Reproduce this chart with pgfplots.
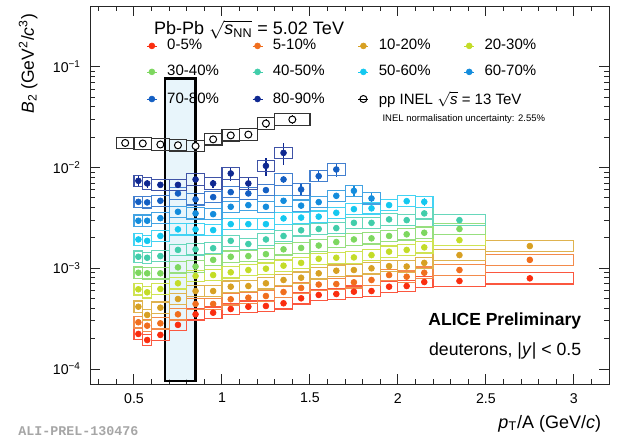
\documentclass[border=0pt]{standalone}
\usepackage{fontspec}
\setmainfont{Liberation Sans}
\setmonofont{Liberation Mono}
\usepackage{amsmath}
\usepackage{pgfplots}
\usepackage{pgfplotstable}
\pgfplotsset{compat=1.18}

\definecolor{c0}{RGB}{250,45,15}
\definecolor{c1}{RGB}{240,110,30}
\definecolor{c2}{RGB}{215,160,35}
\definecolor{c3}{RGB}{195,220,40}
\definecolor{c4}{RGB}{125,215,95}
\definecolor{c5}{RGB}{65,205,170}
\definecolor{c6}{RGB}{20,200,240}
\definecolor{c7}{RGB}{20,140,220}
\definecolor{c8}{RGB}{20,95,195}
\definecolor{c9}{RGB}{15,40,145}
\definecolor{hl}{RGB}{222,241,250}

% box marks: half widths = half bin width x 105.56pt per unit, half height 3.4pt
\pgfdeclareplotmark{boxA}{\pgfpathrectanglecorners{\pgfpoint{-2.64pt}{-3.4pt}}{\pgfpoint{2.64pt}{3.4pt}}\pgfusepathqstroke}
\pgfdeclareplotmark{boxB}{\pgfpathrectanglecorners{\pgfpoint{-5.28pt}{-3.4pt}}{\pgfpoint{5.28pt}{3.4pt}}\pgfusepathqstroke}
\pgfdeclareplotmark{boxC}{\pgfpathrectanglecorners{\pgfpoint{-15.83pt}{-3.4pt}}{\pgfpoint{15.83pt}{3.4pt}}\pgfusepathqstroke}
\pgfdeclareplotmark{boxD}{\pgfpathrectanglecorners{\pgfpoint{-26.39pt}{-3.4pt}}{\pgfpoint{26.39pt}{3.4pt}}\pgfusepathqstroke}
\pgfdeclareplotmark{boxE}{\pgfpathrectanglecorners{\pgfpoint{-10.56pt}{-3.4pt}}{\pgfpoint{10.56pt}{3.4pt}}\pgfusepathqstroke}

% x = pT/A, y = B2, w = half bin width, e = relative stat. error
\pgfplotstableread{
x y w e
0.525 0.000223 0.025 0.03
0.575 0.000194 0.025 0.03
0.65 0.000218 0.05 0.03
0.75 0.000274 0.05 0.03
0.85 0.000349 0.05 0.03
0.95 0.000362 0.05 0.03
1.05 0.000394 0.05 0.03
1.15 0.000415 0.05 0.03
1.25 0.000422 0.05 0.03
1.35 0.000449 0.05 0.03
1.45 0.000503 0.05 0.03
1.55 0.000543 0.05 0.03
1.65 0.000555 0.05 0.03
1.75 0.000585 0.05 0.03
1.85 0.000594 0.05 0.03
1.95 0.000656 0.05 0.03
2.05 0.000666 0.05 0.03
2.15 0.000730 0.05 0.03
2.35 0.000747 0.15 0.03
2.75 0.000794 0.25 0.04
}\tcA
\pgfplotstableread{
x y w e
0.525 0.000291 0.025 0.03
0.575 0.000269 0.025 0.03
0.65 0.000284 0.05 0.03
0.75 0.000349 0.05 0.03
0.85 0.000442 0.05 0.03
0.95 0.000442 0.05 0.03
1.05 0.000492 0.05 0.03
1.15 0.000510 0.05 0.03
1.25 0.000530 0.05 0.03
1.35 0.000581 0.05 0.03
1.45 0.000637 0.05 0.03
1.55 0.000689 0.05 0.03
1.65 0.000697 0.05 0.03
1.75 0.000725 0.05 0.03
1.85 0.000764 0.05 0.03
1.95 0.000856 0.05 0.03
2.05 0.000824 0.05 0.03
2.15 0.000902 0.05 0.03
2.35 0.000960 0.15 0.03
2.75 0.00121 0.25 0.06
}\tcB
\pgfplotstableread{
x y w e
0.525 0.000415 0.025 0.03
0.575 0.000344 0.025 0.03
0.65 0.000406 0.05 0.03
0.75 0.000495 0.05 0.03
0.85 0.000594 0.05 0.03
0.95 0.000594 0.05 0.03
1.05 0.000656 0.05 0.03
1.15 0.000666 0.05 0.03
1.25 0.000709 0.05 0.03
1.35 0.000764 0.05 0.03
1.45 0.000805 0.05 0.03
1.55 0.000890 0.05 0.03
1.65 0.000945 0.05 0.03
1.75 0.000960 0.05 0.03
1.85 0.000998 0.05 0.03
1.95 0.00105 0.05 0.03
2.05 0.00104 0.05 0.03
2.15 0.00113 0.05 0.03
2.35 0.00135 0.15 0.03
2.75 0.00166 0.25 0.05
}\tcC
\pgfplotstableread{
x y w e
0.525 0.000618 0.025 0.03
0.575 0.000577 0.025 0.03
0.65 0.000622 0.05 0.03
0.75 0.000709 0.05 0.03
0.85 0.000837 0.05 0.03
0.95 0.000856 0.05 0.03
1.05 0.000911 0.05 0.03
1.15 0.000960 0.05 0.03
1.25 0.000989 0.05 0.03
1.35 0.00106 0.05 0.03
1.45 0.00113 0.05 0.03
1.55 0.00124 0.05 0.03
1.65 0.00127 0.05 0.03
1.75 0.00128 0.05 0.03
1.85 0.00135 0.05 0.03
1.95 0.00146 0.05 0.03
2.05 0.00152 0.05 0.03
2.15 0.00161 0.05 0.03
2.35 0.00190 0.15 0.03
}\tcD
\pgfplotstableread{
x y w e
0.525 0.000902 0.025 0.03
0.575 0.000890 0.025 0.03
0.65 0.000890 0.05 0.03
0.75 0.00102 0.05 0.03
0.85 0.00104 0.05 0.03
0.95 0.00121 0.05 0.03
1.05 0.00130 0.05 0.03
1.15 0.00132 0.05 0.03
1.25 0.00138 0.05 0.03
1.35 0.00154 0.05 0.03
1.45 0.00159 0.05 0.03
1.55 0.00168 0.05 0.03
1.65 0.00182 0.05 0.03
1.75 0.00193 0.05 0.03
1.85 0.00198 0.05 0.03
1.95 0.00209 0.05 0.03
2.05 0.00217 0.05 0.03
2.15 0.00225 0.05 0.03
2.35 0.00245 0.15 0.03
}\tcE
\pgfplotstableread{
x y w e
0.525 0.00130 0.025 0.03
0.575 0.00127 0.025 0.03
0.65 0.00132 0.05 0.03
0.75 0.00152 0.05 0.03
0.85 0.00154 0.05 0.03
0.95 0.00158 0.05 0.03
1.05 0.00187 0.05 0.03
1.15 0.00174 0.05 0.03
1.25 0.00193 0.05 0.03
1.35 0.00209 0.05 0.03
1.45 0.00238 0.05 0.03
1.55 0.00245 0.05 0.03
1.65 0.00250 0.05 0.03
1.75 0.00282 0.05 0.03
1.85 0.00282 0.05 0.03
1.95 0.00305 0.05 0.03
2.05 0.00300 0.05 0.03
2.15 0.00350 0.05 0.04
2.35 0.00300 0.15 0.04
}\tcF
\pgfplotstableread{
x y w e
0.525 0.00193 0.025 0.03
0.575 0.00187 0.025 0.03
0.65 0.00209 0.05 0.03
0.75 0.00243 0.05 0.03
0.85 0.00243 0.05 0.03
0.95 0.00239 0.05 0.03
1.05 0.00274 0.05 0.03
1.15 0.00274 0.05 0.03
1.25 0.00274 0.05 0.03
1.35 0.00312 0.05 0.03
1.45 0.00318 0.05 0.03
1.55 0.00325 0.05 0.03
1.65 0.00355 0.05 0.03
1.75 0.00386 0.05 0.04
1.85 0.00393 0.05 0.04
1.95 0.00423 0.05 0.05
2.05 0.00463 0.05 0.06
2.15 0.00456 0.05 0.10
}\tcG
\pgfplotstableread{
x y w e
0.525 0.00296 0.025 0.03
0.575 0.00296 0.025 0.03
0.65 0.00314 0.05 0.03
0.75 0.00363 0.05 0.03
0.85 0.00350 0.05 0.03
0.95 0.00344 0.05 0.03
1.05 0.00407 0.05 0.03
1.15 0.00423 0.05 0.03
1.25 0.00407 0.05 0.04
1.35 0.00467 0.05 0.04
1.45 0.00418 0.05 0.05
1.55 0.00453 0.05 0.05
1.65 0.00523 0.05 0.06
1.75 0.00586 0.05 0.12
1.85 0.00493 0.05 0.12
}\tcH
\pgfplotstableread{
x y w e
0.525 0.00456 0.025 0.04
0.575 0.00450 0.025 0.04
0.65 0.00467 0.05 0.04
0.75 0.00552 0.05 0.04
0.85 0.00482 0.05 0.04
0.95 0.00508 0.05 0.04
1.05 0.00569 0.05 0.05
1.15 0.00552 0.05 0.05
1.25 0.00596 0.05 0.06
1.35 0.00760 0.05 0.08
1.45 0.00605 0.05 0.12
1.55 0.00820 0.05 0.12
1.65 0.00955 0.05 0.15
}\tcI
\pgfplotstableread{
x y w e
0.525 0.00737 0.025 0.13
0.575 0.00694 0.025 0.09
0.65 0.00672 0.05 0.05
0.75 0.00672 0.05 0.06
0.85 0.00760 0.05 0.09
0.95 0.00694 0.05 0.09
1.05 0.00872 0.05 0.15
1.15 0.00694 0.05 0.15
1.25 0.01037 0.05 0.20
1.35 0.01395 0.05 0.25
}\tcJ
\pgfplotstableread{
x y w e
0.45 0.0175 0.05 0.05
0.55 0.0173 0.05 0.05
0.65 0.0169 0.05 0.05
0.75 0.0166 0.05 0.05
0.85 0.0163 0.05 0.05
0.95 0.0190 0.05 0.06
1.05 0.0208 0.05 0.07
1.15 0.0212 0.05 0.08
1.25 0.0273 0.05 0.10
1.40 0.0299 0.10 0.10
}\tpp

\newcommand{\boxplot}[2]{%
  \addplot[forget plot, only marks, mark=boxA, color=#1, line width=0.7pt, restrict x to domain=0.5:0.6] table[x=x,y=y]{#2};
  \addplot[forget plot, only marks, mark=boxB, color=#1, line width=0.7pt, restrict x to domain=0.6:2.2] table[x=x,y=y]{#2};
  \addplot[forget plot, only marks, mark=boxC, color=#1, line width=0.7pt, restrict x to domain=2.3:2.4] table[x=x,y=y]{#2};
  \addplot[forget plot, only marks, mark=boxD, color=#1, line width=0.7pt, restrict x to domain=2.7:2.8] table[x=x,y=y]{#2};}
\newcommand{\ptplot}[2]{%
  \addplot[only marks, mark=*, mark size=1.75pt, color=#1,
    error bars/.cd, y dir=both, y explicit relative, error mark=none,
    error bar style={line width=0.8pt}]
    table[x=x,y=y,y error=e]{#2};}
\newcommand{\lab}[1]{\makebox[50pt][l]{#1}}

\begin{document}
\begin{tikzpicture}
\path[use as bounding box] (0,0) rectangle (380.4pt,262.2pt);
\begin{axis}[
  at={(54pt,31.8pt)}, anchor=south west,
  scale only axis, width=311.4pt, height=226.8pt,
  xmin=0.25, xmax=3.2, ymode=log, ymin=7.1e-5, ymax=0.4,
  axis line style={black!85, line width=0.6pt},
  tick style={black!85, line width=0.6pt},
  tick align=inside,
  major tick length=6pt, minor tick length=3pt,
  xtick={0.5,1,1.5,2,2.5,3},
  minor xtick={0.3,0.4,...,3.2},
  ytick={1e-4,1e-3,1e-2,1e-1},
  yticklabels={10\textsuperscript{−4},10\textsuperscript{−3},10\textsuperscript{−2},10\textsuperscript{−1}},
  /pgf/number format/assume math mode=true,
  ticklabel style={font=\fontsize{8.5}{10}\selectfont},
  xticklabel style={yshift=-2pt},
  yticklabel style={xshift=-2pt},
  xlabel={\textit{p}\textsubscript{T}/A (GeV/\textit{c})},
  ylabel={\textit{B}\textsubscript{2} (GeV\textsuperscript{2}/\textit{c}\textsuperscript{3})},
  xlabel style={at={(axis description cs:0.996,-0.1164)}, anchor=base east, font=\fontsize{10.8}{12}\selectfont},
  ylabel style={at={(axis description cs:-0.108,0.9947)}, anchor=base east, font=\fontsize{10.5}{12}\selectfont},
  legend columns=4,
  legend cell align=left,
  legend style={at={(axis description cs:0.109,0.916)}, anchor=north west,
    draw=none, fill=none, inner sep=0pt, outer sep=0pt, row sep=5.8pt,
    font=\fontsize{9}{10}\selectfont,
    /tikz/every odd column/.append style={column sep=5pt},
    nodes={inner sep=1pt}},
  legend image code/.code={\draw[#1] plot coordinates {(3pt,0pt)}; \path (0pt,0pt) -- (6pt,0pt);},
]
% systematic boxes
\boxplot{c0!80!white}{\tcA}
\boxplot{c1!80!white}{\tcB}
\boxplot{c2!80!white}{\tcC}
\boxplot{c3!80!white}{\tcD}
\boxplot{c4!80!white}{\tcE}
\boxplot{c5!80!white}{\tcF}
\boxplot{c6!80!white}{\tcG}
\boxplot{c7!80!white}{\tcH}
\boxplot{c8!80!white}{\tcI}
\boxplot{c9!80!white}{\tcJ}
\addplot[forget plot, only marks, mark=boxB, color=black!80, line width=0.7pt, restrict x to domain=0.4:1.3] table[x=x,y=y]{\tpp};
\addplot[forget plot, only marks, mark=boxE, color=black!80, line width=0.7pt, restrict x to domain=1.35:1.45] table[x=x,y=y]{\tpp};
% highlighted bin
\fill[hl, fill opacity=0.7] (axis cs:0.676,7.6e-5) rectangle (axis cs:0.849,0.076);
% points
\ptplot{c0}{\tcA}\addlegendentry{\lab{0-5\%}}
\ptplot{c1}{\tcB}\addlegendentry{\lab{5-10\%}}
\ptplot{c2}{\tcC}\addlegendentry{\lab{10-20\%}}
\ptplot{c3}{\tcD}\addlegendentry{\lab{20-30\%}}
\ptplot{c4}{\tcE}\addlegendentry{\lab{30-40\%}}
\ptplot{c5}{\tcF}\addlegendentry{\lab{40-50\%}}
\ptplot{c6}{\tcG}\addlegendentry{\lab{50-60\%}}
\ptplot{c7}{\tcH}\addlegendentry{\lab{60-70\%}}
\ptplot{c8}{\tcI}\addlegendentry{\lab{70-80\%}}
\ptplot{c9}{\tcJ}\addlegendentry{\lab{80-90\%}}
\addplot[only marks, mark=*, mark size=2.1pt, black, line width=0.6pt,
  mark options={draw=black, fill=white},
  error bars/.cd, y dir=both, y explicit relative, error mark=none]
  table[x=x,y=y,y error=e]{\tpp};
\addlegendentry{\lab{pp INEL $\sqrt{\textit{s}}$ = 13 TeV}}
\draw[black, line width=1.7pt] (axis cs:0.676,7.6e-5) rectangle (axis cs:0.849,0.076);
% texts
\node[anchor=base west, font=\fontsize{10.8}{12}\selectfont] at (axis description cs:0.1123,0.925) {Pb-Pb $\sqrt{\textit{s}_{\text{NN}}}$ = 5.02 TeV};
\node[anchor=base west, font=\fontsize{5.7}{7}\selectfont] at (axis description cs:0.5524,0.694) {INEL normalisation uncertainty: 2.55\%};
\node[anchor=base east, font=\bfseries\fontsize{10.5}{12}\selectfont] at (axis description cs:0.9576,0.156) {ALICE Preliminary};
\node[anchor=base east, font=\fontsize{10.6}{12}\selectfont] at (axis description cs:0.9576,0.0767) {deuterons, |\textit{y}| < 0.5};
\end{axis}
\node[anchor=base west, inner sep=0pt, text=black!35, font=\ttfamily\bfseries\fontsize{8}{9}\selectfont] at (10.8pt,0.6pt) {ALI-PREL-130476};
\end{tikzpicture}
\end{document}
